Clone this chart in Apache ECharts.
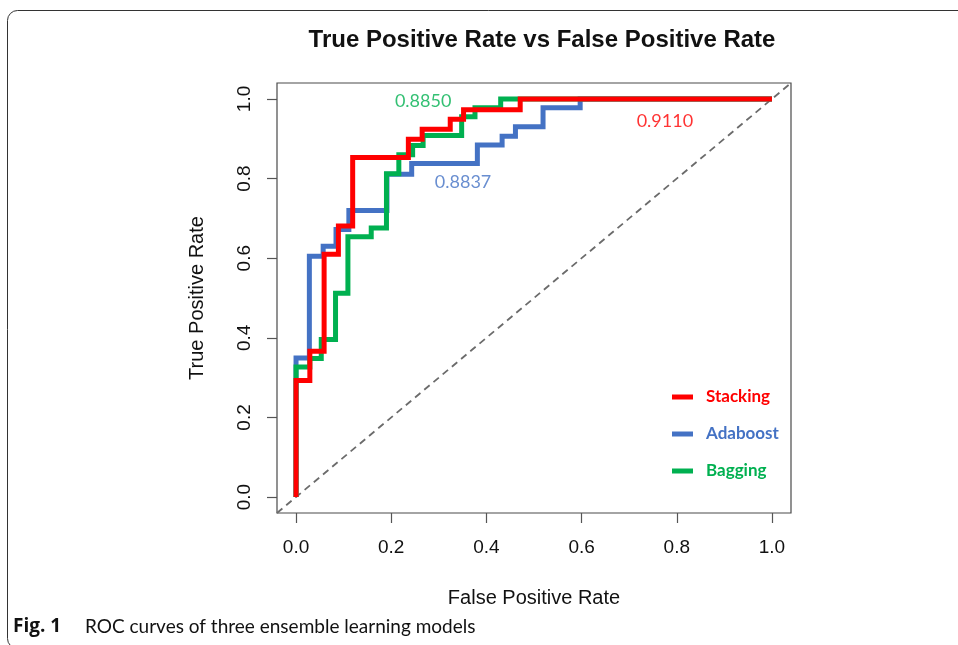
<!DOCTYPE html>
<html>
<head>
<meta charset="utf-8">
<script src="https://cdn.jsdelivr.net/npm/echarts@6/dist/echarts.min.js"></script>
<style>html,body{margin:0;padding:0;background:#fff;}#c{width:958px;height:645px;}</style>
</head>
<body>
<div id="c"></div>
<script>
// ---- data ----
const seriesNames = ['Stacking', 'Adaboost', 'Bagging'];
const stackingRoc = [[0,0],[0,0.293],[0.029,0.293],[0.029,0.366],[0.059,0.366],[0.059,0.610],[0.089,0.610],[0.089,0.681],[0.119,0.681],[0.119,0.853],[0.236,0.853],[0.236,0.899],[0.265,0.899],[0.265,0.924],[0.324,0.924],[0.324,0.949],[0.352,0.949],[0.352,0.973],[0.471,0.973],[0.471,1],[1,1]];
const adaboostRoc = [[0,0],[0,0.349],[0.028,0.349],[0.028,0.605],[0.057,0.605],[0.057,0.630],[0.084,0.630],[0.084,0.672],[0.111,0.672],[0.111,0.720],[0.191,0.720],[0.191,0.811],[0.243,0.811],[0.243,0.838],[0.381,0.838],[0.381,0.884],[0.433,0.884],[0.433,0.906],[0.461,0.906],[0.461,0.930],[0.519,0.930],[0.519,0.978],[0.597,0.978],[0.597,1],[1,1]];
const baggingRoc = [[0,0],[0,0.327],[0.029,0.327],[0.029,0.348],[0.053,0.348],[0.053,0.396],[0.083,0.396],[0.083,0.512],[0.109,0.512],[0.109,0.654],[0.158,0.654],[0.158,0.676],[0.190,0.676],[0.190,0.812],[0.216,0.812],[0.216,0.860],[0.245,0.860],[0.245,0.883],[0.267,0.883],[0.267,0.908],[0.348,0.908],[0.348,0.955],[0.376,0.955],[0.376,0.978],[0.430,0.978],[0.430,1],[1,1]];
const aucLabels = ['0.9110', '0.8837', '0.8850'];
const aucLabelPos = [[0.775, 0.945], [0.351, 0.791], [0.267, 0.995]];
const tickValues = [0, 0.2, 0.4, 0.6, 0.8, 1.0];
const axisRange = [-0.04, 1.04];
const diagonal = [[-0.04, -0.04], [1.04, 1.04]];
const titleText = 'True Positive Rate vs False Positive Rate';
const xName = 'False Positive Rate';
const yName = 'True Positive Rate';
const captionBold = 'Fig. 1';
const captionText = 'ROC curves of three ensemble learning models';

// ---- styles ----
const colors = { Stacking: '#FF0000', Adaboost: '#4472C4', Bagging: '#00B050' };
const curves = { Stacking: stackingRoc, Adaboost: adaboostRoc, Bagging: baggingRoc };
const axisFont = '"Liberation Sans", Arial, sans-serif';
const calFont = 'Lato, "Open Sans", sans-serif';

const chart = echarts.init(document.getElementById('c'), null, { renderer: 'canvas' });

const drawOrder = ['Adaboost', 'Bagging', 'Stacking'];
const series = [];
series.push({
  type: 'line', name: 'diag', data: diagonal, symbol: 'none', silent: true,
  lineStyle: { color: '#6b6b6b', width: 1.8, type: [7, 5] }, z: 1
});
drawOrder.forEach((n, i) => {
  series.push({
    type: 'line', name: n, data: curves[n], symbol: 'none', showSymbol: false,
    lineStyle: { color: colors[n], width: 5, join: 'miter', cap: 'butt' },
    itemStyle: { color: colors[n] }, z: 2 + i
  });
});
series.push({
  type: 'scatter', name: 'auc', silent: true, symbolSize: 0, z: 10,
  data: aucLabels.map((t, i) => ({
    value: aucLabelPos[i],
    label: { show: true, formatter: t, position: 'inside', color: colors[seriesNames[i]],
      fontFamily: calFont, fontSize: 18 }
  }))
});

const axisCommon = {
  type: 'value', min: axisRange[0], max: axisRange[1],
  nameLocation: 'middle',
  nameTextStyle: { fontFamily: axisFont, fontSize: 20, color: '#111' },
  axisLine: { show: false, onZero: false },
  splitLine: { show: false },
  axisTick: { show: true, length: 10, lineStyle: { color: '#555', width: 1.2 }, customValues: tickValues }
};

chart.setOption({
  animation: false,
  backgroundColor: '#fff',
  title: {
    text: titleText, left: 537, top: 23, textAlign: 'center',
    textStyle: { fontFamily: axisFont, fontWeight: 'bold', fontSize: 24, color: '#111' }
  },
  legend: {
    orient: 'vertical', left: 667, top: 382, itemGap: 17,
    icon: 'rect', itemWidth: 21, itemHeight: 5,
    data: seriesNames.map(n => ({ name: n, textStyle: { color: colors[n] } })),
    textStyle: { fontFamily: calFont, fontWeight: 'bold', fontSize: 17, lineHeight: 20, padding: [0, 0, 0, 8] }
  },
  grid: { left: 277, right: 167, top: 83, bottom: 132, show: true, borderColor: '#4a4a4a', borderWidth: 1.2, containLabel: false },
  xAxis: Object.assign({}, axisCommon, {
    name: xName, nameGap: 75,
    axisLabel: { customValues: tickValues, margin: 25, fontFamily: axisFont, fontSize: 19, color: '#111',
      formatter: v => v.toFixed(1) }
  }),
  yAxis: Object.assign({}, axisCommon, {
    name: yName, nameGap: 70, nameRotate: 90,
    axisLabel: { customValues: tickValues, margin: 23, rotate: 90, fontFamily: axisFont, fontSize: 19, color: '#111',
      formatter: v => v.toFixed(1) }
  }),
  series: series,
  graphic: [
    { type: 'rect', shape: { x: 7.5, y: 10.5, width: 1100, height: 638, r: 10 },
      style: { fill: 'none', stroke: '#333', lineWidth: 1 }, silent: true },
    { type: 'text', left: 13, top: 617,
      style: { text: captionBold, fontFamily: '"Open Sans", sans-serif', fontWeight: 'bold', fontSize: 19, fill: '#111' } },
    { type: 'text', left: 85, top: 617,
      style: { text: captionText, fontFamily: calFont, fontSize: 19, fill: '#111' } }
  ]
});
</script>
</body>
</html>
